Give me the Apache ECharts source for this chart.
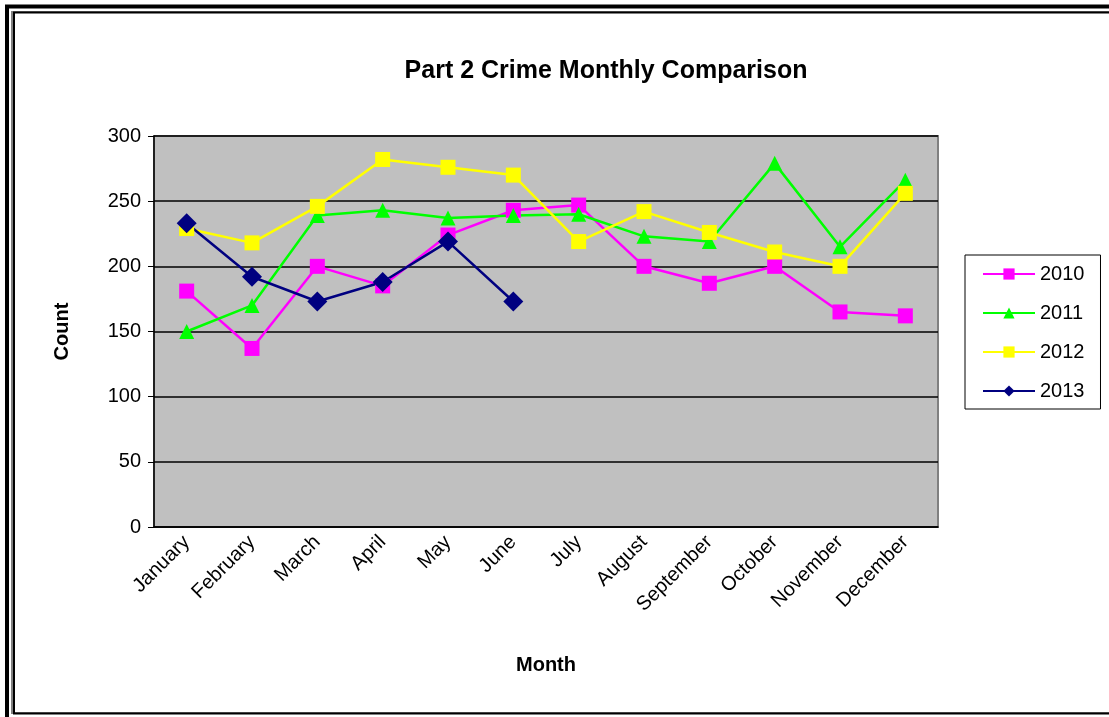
<!DOCTYPE html>
<html>
<head>
<meta charset="utf-8">
<script src="https://cdn.jsdelivr.net/npm/echarts@6/dist/echarts.min.js"></script>
<style>
  html, body { margin: 0; padding: 0; background: #fff; }
  #chart { width: 1109px; height: 717px; }
</style>
</head>
<body>
<div id="chart"></div>
<script>
const months = ['January', 'February', 'March', 'April', 'May', 'June', 'July',
  'August', 'September', 'October', 'November', 'December']
const y2010 = [181, 137, 200, 185, 224, 243, 247, 200, 187, 200, 165, 162]
const y2011 = [150, 170, 239, 243, 237, 239, 240, 223, 219, 279, 215, 266]
const y2012 = [229, 218, 246, 282, 276, 270, 219, 242, 226, 211, 200, 256]
const y2013 = [233, 192, 173, 188, 219, 173]

const font = '"Liberation Sans", Arial, sans-serif'

const chart = echarts.init(document.getElementById('chart'))

function line(name, data, color, symbol, size) {
  return {
    name,
    type: 'line',
    data,
    symbol,
    symbolSize: size,
    lineStyle: { color, width: 2.5 },
    itemStyle: { color },
    animation: false
  }
}

chart.setOption({
  animation: false,
  textStyle: { fontFamily: font },
  title: {
    text: 'Part 2 Crime Monthly Comparison',
    left: 601,
    top: 54,
    textAlign: 'center',
    textStyle: { fontSize: 25, fontWeight: 'bold', color: '#000', fontFamily: font }
  },
  legend: {
    orient: 'vertical',
    left: 965,
    top: 255,
    padding: [9, 16, 8, 17],
    itemGap: 19,
    itemWidth: 52,
    itemHeight: 14,
    borderColor: '#000',
    borderWidth: 1,
    textStyle: { fontSize: 20, color: '#000', fontFamily: font },
    data: ['2010', '2011', '2012', '2013']
  },
  grid: {
    left: 154,
    top: 136,
    width: 784,
    height: 391,
    show: true,
    backgroundColor: '#c0c0c0',
    borderColor: '#808080',
    borderWidth: 2
  },
  xAxis: {
    type: 'category',
    data: months,
    boundaryGap: true,
    name: 'Month',
    nameLocation: 'middle',
    nameGap: 128,
    nameTextStyle: { fontSize: 20, fontWeight: 'bold', color: '#000', fontFamily: font },
    axisLine: { lineStyle: { color: '#000', width: 1.5 } },
    axisTick: { alignWithLabel: false, length: 7, lineStyle: { color: '#000' } },
    axisLabel: { rotate: 45, fontSize: 20, color: '#000', margin: 12, fontFamily: font }
  },
  yAxis: {
    type: 'value',
    min: 0,
    max: 300,
    interval: 50,
    name: 'Count',
    nameLocation: 'middle',
    nameGap: 82,
    nameTextStyle: { fontSize: 20, fontWeight: 'bold', color: '#000', fontFamily: font },
    axisLine: { show: true, lineStyle: { color: '#000', width: 1.5 } },
    axisTick: { show: true, length: 6, lineStyle: { color: '#000' } },
    axisLabel: { fontSize: 20, color: '#000', margin: 13, fontFamily: font },
    splitLine: { lineStyle: { color: '#000', width: 1.5 } }
  },
  series: [
    line('2010', y2010, '#ff00ff', 'rect', 15),
    line('2011', y2011, '#00ff00', 'triangle', 15),
    line('2012', y2012, '#ffff00', 'rect', 15),
    line('2013', y2013, '#000080', 'diamond', 20)
  ],
  graphic: [
    {
      type: 'rect',
      shape: { x: 7, y: 6.5, width: 1120, height: 720 },
      style: { fill: 'none', stroke: '#000', lineWidth: 4 },
      silent: true
    },
    {
      type: 'rect',
      shape: { x: 12, y: 12, width: 1110, height: 701 },
      style: { fill: 'none', stroke: '#808080', lineWidth: 2 },
      silent: true
    },
    {
      type: 'rect',
      shape: { x: 14, y: 12.5, width: 1110, height: 701 },
      style: { fill: 'none', stroke: '#000', lineWidth: 2 },
      silent: true
    }
  ]
})
</script>
</body>
</html>
